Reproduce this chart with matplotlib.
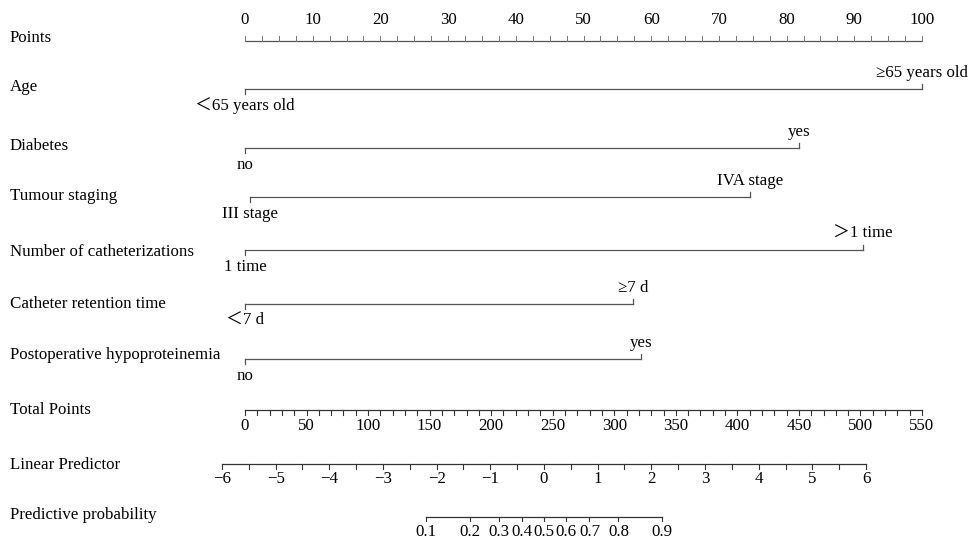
import matplotlib
matplotlib.use('Agg')
import matplotlib.pyplot as plt
import matplotlib.transforms as mtransforms
import numpy as np

# ---------------- data ----------------
variables = ["Age", "Diabetes", "Tumour staging", "Number of catheterizations",
             "Catheter retention time", "Postoperative hypoproteinemia"]
low_labels = ["＜65 years old", "no", "III stage", "1 time", "＜7 d", "no"]
high_labels = ["≥65 years old", "yes", "IVA stage", "＞1 time", "≥7 d", "yes"]
low_points = [0, 0, 0.8, 0, 0, 0]
high_points = [100, 81.8, 74.6, 91.3, 57.3, 58.5]

points_labels = list(range(0, 101, 10))
points_minor = list(np.arange(0, 100.1, 2.5))
max_points = 100
max_total = 550
total_labels = list(range(0, 551, 50))
total_minor = list(range(0, 551, 10))
lp_labels = list(range(-6, 7))
lp_minor = list(np.arange(-6, 6.01, 0.5))
prob_labels = [0.1, 0.2, 0.3, 0.4, 0.5, 0.6, 0.7, 0.8, 0.9]
prob_text = ["0.1", "0.2", "0.3", "0.4", "0.5", "0.6", "0.7", "0.8", "0.9"]
lp_intercept = -5.571   # linear predictor at 0 total points
lp_slope = 0.022935     # linear predictor per total point

# ---------------- layout ----------------
W, H = 971, 541
x0_px, x100_px = 245, 922
ppx = (x100_px - x0_px) / 100.0
row_points = 41
row_vars = [89, 148, 197, 250, 304, 359]
name_y = [87, 146, 196, 252, 304, 355]
row_total = 410
row_lp = 464
row_prob = 517

FAM = ['Liberation Serif', 'Noto Sans CJK SC', 'DejaVu Sans']
FS = 12.2
LC = '#555555'
AC = '#333333'

fig = plt.figure(figsize=(W / 100, H / 100), dpi=100)
ax = fig.add_axes([0, 0, 1, 1])
ax.set_xlim(-x0_px / ppx, (W - x0_px) / ppx)
ax.set_ylim(H, 0)
ax.axis('off')

lab_tr = mtransforms.blended_transform_factory(fig.transFigure, ax.transData)


def name(txt, y):
    ax.text(10 / W, y, txt, transform=lab_tr, fontsize=FS, family=FAM,
            ha='left', va='center')


def tot2x(t):
    return np.asarray(t, dtype=float) * max_points / max_total


def lp2x(lp):
    return tot2x((np.asarray(lp, dtype=float) - lp_intercept) / lp_slope)


# Points axis
name("Points", 38)
ax.plot([0, max_points], [row_points, row_points], color=LC, lw=0.9)
for v in points_minor:
    ax.plot([v, v], [row_points, row_points - 5], color='#777777', lw=0.7)
for v in points_labels:
    ax.text(v, 20, str(v), fontsize=FS, family=FAM, ha='center', va='center')

# Variables
for i, var in enumerate(variables):
    y = row_vars[i]
    name(var, name_y[i])
    lo, hi = low_points[i], high_points[i]
    ax.plot([lo, hi], [y, y], color=LC, lw=0.9)
    ax.plot([lo, lo], [y, y + 5], color=LC, lw=0.9)
    ax.plot([hi, hi], [y, y - 5], color=LC, lw=0.9)
    ax.text(lo, y + 17, low_labels[i], fontsize=FS, family=FAM,
            ha='center', va='center')
    ax.text(hi, y - 16, high_labels[i], fontsize=FS, family=FAM,
            ha='center', va='center')

# Total points
name("Total Points", 410)
ax.plot(tot2x([0, max_total]), [row_total, row_total], color=AC, lw=0.9)
for v in total_minor:
    xv = tot2x(v)
    ax.plot([xv, xv], [row_total, row_total + 5], color=AC, lw=0.8)
for v in total_labels:
    ax.text(tot2x(v), 426, str(v), fontsize=FS, family=FAM,
            ha='center', va='center')

# Linear predictor
name("Linear Predictor", 465)
ax.plot(lp2x([lp_labels[0], lp_labels[-1]]), [row_lp, row_lp], color=AC, lw=0.9)
for v in lp_minor:
    xv = lp2x(v)
    ax.plot([xv, xv], [row_lp, row_lp + 5], color=AC, lw=0.8)
for v in lp_labels:
    txt = str(v).replace('-', '\u2212')
    ax.text(lp2x(v), 479, txt, fontsize=FS, family=FAM,
            ha='center', va='center')

# Predictive probability
name("Predictive probability", 515)
plog = np.log(np.array(prob_labels) / (1 - np.array(prob_labels)))
px = lp2x(plog)
ax.plot([px[0], px[-1]], [row_prob, row_prob], color=AC, lw=0.9)
for xv, t in zip(px, prob_text):
    ax.plot([xv, xv], [row_prob, row_prob + 4], color=AC, lw=0.8)
    ax.text(xv, 532, t, fontsize=FS, family=FAM, ha='center', va='center')

fig.savefig('out.png', dpi=100)
